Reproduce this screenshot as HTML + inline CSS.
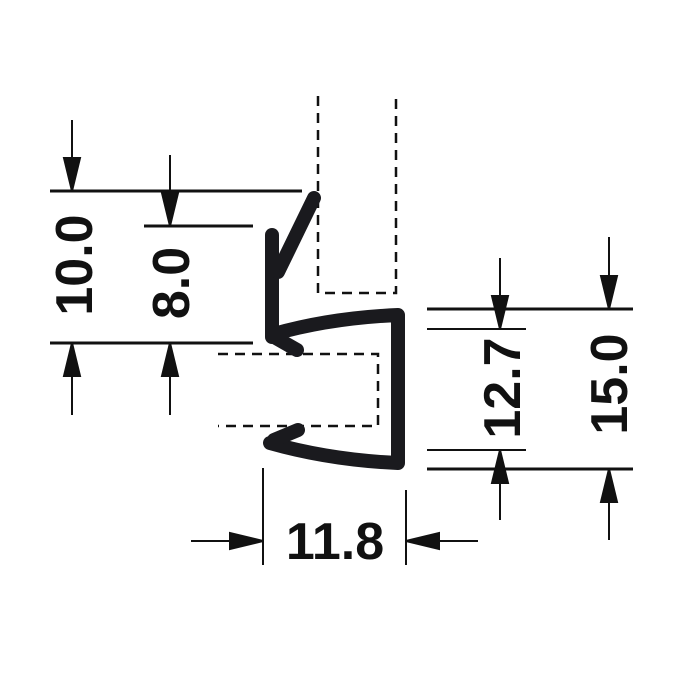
<!DOCTYPE html>
<html><head><meta charset="utf-8"><style>
html,body{margin:0;padding:0;background:#fff;width:698px;height:684px;overflow:hidden}
text{font-family:"Liberation Sans",sans-serif;font-weight:bold;fill:#111}
</style></head><body>
<svg width="698" height="684" viewBox="0 0 698 684" xmlns="http://www.w3.org/2000/svg">
<g stroke="#111" stroke-width="3" fill="none">
<line x1="50" y1="191" x2="302" y2="191"/>
<line x1="144" y1="226" x2="253" y2="226"/>
<line x1="50" y1="343" x2="253" y2="343"/>
<line x1="427" y1="309" x2="633" y2="309"/>
<line x1="427" y1="469" x2="633" y2="469"/>
</g>
<g stroke="#111" stroke-width="2" fill="none">
<line x1="427" y1="329" x2="526" y2="329"/>
<line x1="427" y1="450" x2="526" y2="450"/>
<line x1="263" y1="468" x2="263" y2="565"/>
<line x1="406" y1="490" x2="406" y2="565"/>
</g>
<g fill="#111" stroke="#111" stroke-width="2">
<line x1="72" y1="120" x2="72" y2="160"/><path d="M64,158 L80,158 L72,191 z"/>
<line x1="72" y1="415" x2="72" y2="375"/><path d="M64,376 L80,376 L72,343 z"/>
<line x1="170" y1="155" x2="170" y2="195"/><path d="M162,193 L178,193 L170,226 z"/>
<line x1="170" y1="415" x2="170" y2="375"/><path d="M162,376 L178,376 L170,343 z"/>
<line x1="500" y1="258" x2="500" y2="298"/><path d="M492,296 L508,296 L500,329 z"/>
<line x1="500" y1="520" x2="500" y2="480"/><path d="M492,483 L508,483 L500,450 z"/>
<line x1="609" y1="237" x2="609" y2="278"/><path d="M601,276 L617,276 L609,309 z"/>
<line x1="609" y1="540" x2="609" y2="500"/><path d="M601,502 L617,502 L609,469 z"/>
<line x1="191" y1="541" x2="232" y2="541"/><path d="M230,533 L230,549 L263,541 z"/>
<line x1="478" y1="541" x2="437" y2="541"/><path d="M439,533 L439,549 L406,541 z"/>
</g>
<g stroke="#111" stroke-width="2.5" fill="none" stroke-dasharray="10,7">
<path d="M318,96 L318,293 L396,293 L396,96"/>
<path d="M218,354 L378,354 L378,426 L218,426"/>
</g>
<g stroke="#1a1a1e" stroke-width="14" fill="none" stroke-linecap="round" stroke-linejoin="round">
<path d="M272,235 L272,337"/>
<path d="M314,198 L278,272"/>
<path d="M274,334 Q330,318 398,315 L398,463 Q330,460 270,443"/>
<path d="M276,338 L297,350"/>
<path d="M274,440 L298,430"/>
</g>
<text x="335" y="559" font-size="52" text-anchor="middle">11.8</text>
<text transform="translate(92,265) rotate(-90)" font-size="52" text-anchor="middle">10.0</text>
<text transform="translate(189,283) rotate(-90)" font-size="52" text-anchor="middle">8.0</text>
<text transform="translate(520,388) rotate(-90)" font-size="52" text-anchor="middle">12.7</text>
<text transform="translate(627,384) rotate(-90)" font-size="52" text-anchor="middle">15.0</text>
</svg>
</body></html>
